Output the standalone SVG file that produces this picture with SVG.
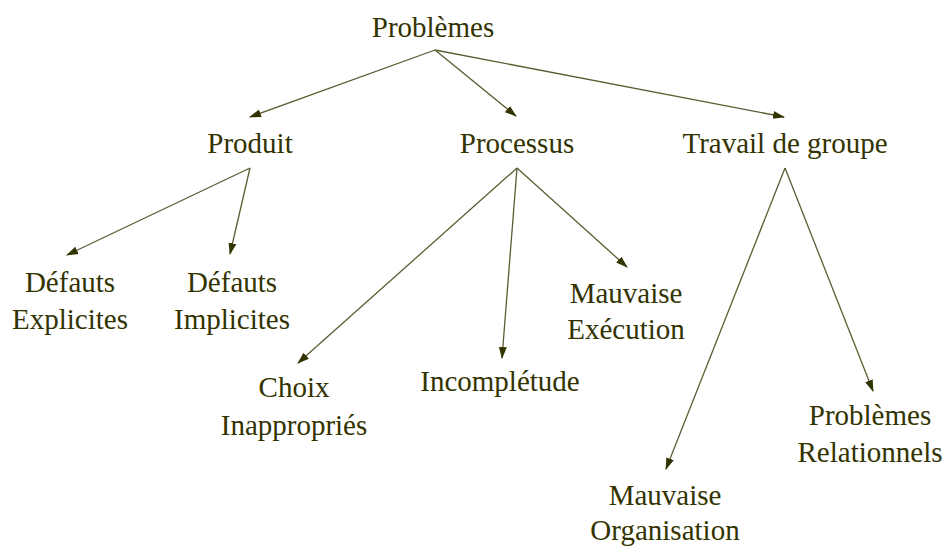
<svg xmlns="http://www.w3.org/2000/svg" width="948" height="549" viewBox="0 0 948 549">
<style>
text{font-family:"Liberation Serif","Times New Roman",serif;font-size:29px;fill:#333300;text-anchor:middle}
.c line{stroke:#5c5c33;stroke-width:1.3;marker-end:url(#ah)}
</style>
<defs>
<marker id="ah" markerWidth="12" markerHeight="10" refX="11" refY="4" orient="auto" markerUnits="userSpaceOnUse" viewBox="0 0 12 8">
<path d="M0,0 L12,4 L0,8 Z" fill="#333300"/>
</marker>
</defs>
<rect width="948" height="549" fill="#fff"/>
<g class="c" id="connectors">
<line x1="435" y1="50" x2="250" y2="117"/>
<line x1="435" y1="50" x2="516" y2="116"/>
<line x1="435" y1="50" x2="784" y2="117"/>
<line x1="250" y1="168" x2="67" y2="255"/>
<line x1="250" y1="168" x2="230" y2="254"/>
<line x1="517" y1="168" x2="298" y2="363"/>
<line x1="517" y1="168" x2="502" y2="358"/>
<line x1="517" y1="168" x2="627" y2="267"/>
<line x1="785" y1="168" x2="666" y2="469"/>
<line x1="785" y1="168" x2="873" y2="391"/>
</g>
<g id="n-problemes"><text x="433" y="37">Problèmes</text></g>
<g id="n-produit"><text x="250" y="153">Produit</text></g>
<g id="n-processus"><text x="517" y="153">Processus</text></g>
<g id="n-travail"><text x="785" y="153">Travail de groupe</text></g>
<g id="n-explicites"><text x="70" y="292">Défauts</text><text x="70" y="329">Explicites</text></g>
<g id="n-implicites"><text x="232" y="292">Défauts</text><text x="232" y="329">Implicites</text></g>
<g id="n-execution"><text x="626" y="303">Mauvaise</text><text x="626" y="339">Exécution</text></g>
<g id="n-choix"><text x="294" y="397">Choix</text><text x="294" y="435">Inappropriés</text></g>
<g id="n-incompletude"><text x="500" y="391">Incomplétude</text></g>
<g id="n-relationnels"><text x="870" y="425">Problèmes</text><text x="870" y="462">Relationnels</text></g>
<g id="n-organisation"><text x="665" y="505">Mauvaise</text><text x="665" y="540">Organisation</text></g>
</svg>
